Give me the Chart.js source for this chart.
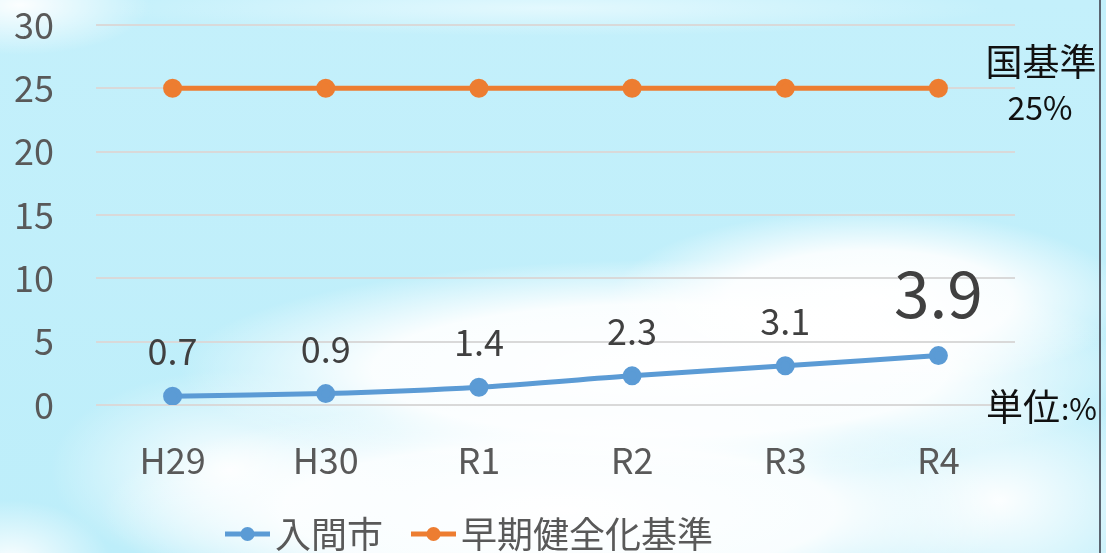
<!DOCTYPE html>
<html>
<head>
<meta charset="utf-8">
<script src="https://cdn.jsdelivr.net/npm/chart.js@4/dist/chart.umd.min.js"></script>
<style>
body { margin: 0; }
#wrap {
  position: relative; width: 1106px; height: 553px; overflow: hidden;
  background:
    radial-gradient(ellipse 130px 50px at 20px 5px, rgba(255,255,255,0.95), rgba(255,255,255,0) 100%),
    radial-gradient(ellipse 450px 28px at 550px 8px, rgba(240,252,255,0.7), rgba(255,255,255,0) 100%),
    radial-gradient(ellipse 260px 90px at 870px 300px, rgba(255,255,255,1), rgba(255,255,255,0.9) 55%, rgba(255,255,255,0) 100%),
    radial-gradient(ellipse 480px 110px at 660px 370px, rgba(255,255,255,1), rgba(255,255,255,0.92) 60%, rgba(255,255,255,0) 100%),
    radial-gradient(ellipse 460px 110px at 560px 510px, rgba(255,255,255,1), rgba(255,255,255,0.9) 60%, rgba(255,255,255,0) 100%),
    radial-gradient(ellipse 180px 100px at 230px 470px, rgba(255,255,255,0.95), rgba(255,255,255,0) 100%),
    radial-gradient(ellipse 100px 60px at 10px 560px, rgba(255,255,255,0.9), rgba(255,255,255,0) 100%),
    radial-gradient(ellipse 180px 120px at 1000px 500px, rgba(255,255,255,0.95), rgba(255,255,255,0) 100%),
    linear-gradient(#c4f0fb, #bdeefa);
}
#edge { position: absolute; left: 1099px; top: 0; width: 2px; height: 553px; background: #5a6470; }
</style>
</head>
<body>
<div id="wrap">
<canvas id="myChart" width="1106" height="553"></canvas>
<div id="edge"></div>
</div>
<script>
var years = ['H29', 'H30', 'R1', 'R2', 'R3', 'R4']
var iruma = [0.7, 0.9, 1.4, 2.3, 3.1, 3.9]
var kijun = [25, 25, 25, 25, 25, 25]
var seriesNames = ['入間市', '早期健全化基準']
var noteTop = ['国基準', '25%']
var noteUnit = '単位:%'

var jp = '"Noto Sans CJK JP", "Noto Sans", sans-serif'

var labelPlugin = {
  id: 'labels',
  afterDatasetsDraw: function(chart) {
    var ctx = chart.ctx
    var meta = chart.getDatasetMeta(0)
    ctx.save()
    ctx.fillStyle = '#404040'
    ctx.textAlign = 'center'
    ctx.textBaseline = 'alphabetic'
    meta.data.forEach(function(pt, i) {
      var big = (i == iruma.length - 1)
      ctx.font = (big ? '64px ' : '36px ') + jp
      ctx.fillText(String(iruma[i]), pt.x, pt.y - (big ? 38 : 31))
    })
    ctx.restore()
  },
  afterDraw: function(chart) {
    var ctx = chart.ctx
    var y = chart.scales.y
    ctx.save()
    ctx.fillStyle = '#111'
    ctx.textBaseline = 'middle'
    ctx.textAlign = 'center'
    ctx.font = '37px ' + jp
    ctx.fillText(noteTop[0], 1041, y.getPixelForValue(25) - 26)
    ctx.font = '32px ' + jp
    ctx.fillText(noteTop[1], 1040, y.getPixelForValue(25) + 20)
    ctx.textAlign = 'left'
    ctx.font = '37px ' + jp
    ctx.fillText(noteUnit.slice(0, 2), 986, y.getPixelForValue(0) + 2)
    ctx.font = '30px ' + jp
    ctx.fillText(noteUnit.slice(2), 1061, y.getPixelForValue(0) + 4)

    // legend
    var x = 225
    var ly = 534
    ctx.font = '36px ' + jp
    chart.data.datasets.forEach(function(ds) {
      ctx.strokeStyle = ds.borderColor
      ctx.fillStyle = ds.borderColor
      ctx.lineWidth = 5
      ctx.beginPath()
      ctx.moveTo(x, ly)
      ctx.lineTo(x + 45, ly)
      ctx.stroke()
      ctx.beginPath()
      ctx.arc(x + 22.5, ly, 7, 0, Math.PI * 2)
      ctx.fill()
      ctx.fillStyle = '#595959'
      ctx.fillText(ds.label, x + 50, ly)
      x += 50 + ctx.measureText(ds.label).width + 28
    })
    ctx.restore()
  }
}

var ctx = document.getElementById('myChart').getContext('2d')
var chart = new Chart(ctx, {
  type: 'line',
  data: {
    labels: years,
    datasets: [{
      label: seriesNames[0],
      data: iruma,
      borderColor: '#5b9bd5',
      backgroundColor: '#5b9bd5',
      borderWidth: 5,
      pointRadius: 7,
      tension: 0.2,
      fill: false
    }, {
      label: seriesNames[1],
      data: kijun,
      borderColor: '#ed7d31',
      backgroundColor: '#ed7d31',
      borderWidth: 5,
      pointRadius: 7,
      fill: false
    }]
  },
  plugins: [labelPlugin],
  options: {
    responsive: false,
    animation: false,
    events: [],
    layout: { padding: { top: 25, right: 91, bottom: 68, left: 0 } },
    plugins: { legend: { display: false }, tooltip: { enabled: false } },
    scales: {
      x: {
        offset: true,
        grid: { display: false },
        border: { display: false },
        ticks: { color: '#595959', font: { size: 36, family: jp }, padding: 26 },
        afterFit: function(s) { s.height = 80; s.paddingLeft = 0; s.paddingRight = 0 }
      },
      y: {
        min: 0,
        max: 30,
        grid: { color: '#d9d9d9', lineWidth: 2, drawTicks: false },
        border: { display: false },
        ticks: { stepSize: 5, color: '#595959', font: { size: 36, family: jp }, padding: 42 },
        afterFit: function(s) { s.width = 96; s.paddingTop = 0; s.paddingBottom = 0 }
      }
    }
  }
})
</script>
</body>
</html>
